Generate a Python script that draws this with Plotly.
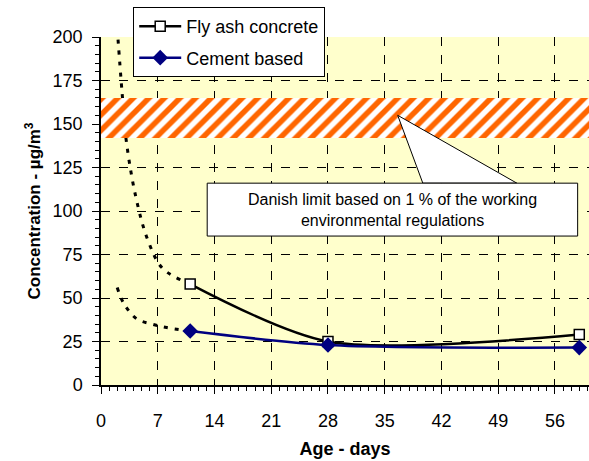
import plotly.graph_objects as go

# measured points (days, ug/m3)
fly_ash_days = [11, 28, 59]
fly_ash_conc = [58, 25, 29]
cement_days = [11, 28, 59]
cement_conc = [31, 23, 21.5]

# extrapolated trend towards early age (dotted)
fly_ash_early_days = [2.0, 2.6, 3.1, 4.3, 5.8, 7.6, 11]
fly_ash_early_conc = [205, 168, 141, 108, 83, 67, 58]
cement_early_days = [2.0, 2.8, 4.4, 6.3, 8.1, 11]
cement_early_conc = [56, 47, 38, 35, 33, 31]

# Danish limit band
limit_low = 142
limit_high = 165

x_ticks = [0, 7, 14, 21, 28, 35, 42, 49, 56]
y_ticks = [0, 25, 50, 75, 100, 125, 150, 175, 200]

FONT = "Arial, Liberation Sans, sans-serif"

fig = go.Figure()

fig.add_trace(go.Scatter(
    x=fly_ash_early_days, y=fly_ash_early_conc, mode="lines",
    line=dict(color="black", width=3, dash="4px,7px", shape="spline"),
    showlegend=False, hoverinfo="skip"))
fig.add_trace(go.Scatter(
    x=cement_early_days, y=cement_early_conc, mode="lines",
    line=dict(color="black", width=3, dash="4px,7px", shape="spline"),
    showlegend=False, hoverinfo="skip"))

# hatched limit band
fig.add_trace(go.Scatter(
    x=[0, 61, 61, 0, 0], y=[limit_low, limit_low, limit_high, limit_high, limit_low],
    mode="lines", line=dict(width=0), fill="toself", fillcolor="white",
    fillpattern=dict(shape="/", fgcolor="#FF6600", bgcolor="white", fgopacity=1,
                     size=11, solidity=0.5),
    showlegend=False, hoverinfo="skip"))

fig.add_trace(go.Scatter(
    x=fly_ash_days, y=fly_ash_conc, mode="lines+markers", name="Fly ash concrete",
    legendgroup="fly",
    line=dict(color="black", width=2.5, shape="spline", smoothing=0.8),
    marker=dict(symbol="square", size=10, color="white", line=dict(color="black", width=1.5))))
fig.add_trace(go.Scatter(
    x=cement_days, y=cement_conc, mode="lines+markers", name="Cement based",
    legendgroup="cement",
    line=dict(color="#000080", width=2.5, shape="spline", smoothing=0.8),
    marker=dict(symbol="diamond", size=12, color="#000080")))

# callout
fig.add_shape(type="path", path="M 39.7,116 L 36.6,155 L 51.3,116 Z",
              xref="x", yref="y", fillcolor="white", line=dict(color="black", width=1))
fig.add_shape(type="rect", x0=13.1, x1=58.8, y0=85.6, y1=116,
              xref="x", yref="y", fillcolor="white", line=dict(color="black", width=1))
fig.add_annotation(x=35.95, y=100.8, xref="x", yref="y", showarrow=False,
                   text="Danish limit based on 1 % of the working<br>environmental regulations",
                   font=dict(family=FONT, size=16, color="black"), align="center")

fig.update_layout(
    width=589, height=461,
    margin=dict(l=101, r=0, t=37, b=76),
    paper_bgcolor="white",
    plot_bgcolor="#FFFFCC",
    font=dict(family=FONT, size=18, color="black"),
    legend=dict(x=0.066, y=1.086, xanchor="left", yanchor="top",
                bgcolor="white", bordercolor="black", borderwidth=1,
                itemwidth=42, tracegroupgap=5, font=dict(size=18)),
)

fig.update_xaxes(
    range=[0, 60.2], tickvals=x_ticks, ticks="outside", ticklen=7, tickcolor="black",
    showline=True, linecolor="black", linewidth=1.5, zeroline=False, automargin=False,
    showgrid=True, gridcolor="black", griddash="dash", gridwidth=1,
    minor=dict(dtick=1, tick0=0, ticks="outside", ticklen=4, tickcolor="black", showgrid=False),
    ticklabelstandoff=12,
    title=dict(text="Age - days", font=dict(size=18, weight="bold"), standoff=12))
fig.update_yaxes(
    range=[0, 200], tickvals=y_ticks, ticks="outside", ticklen=7, tickcolor="black",
    showline=True, linecolor="black", linewidth=1.5, zeroline=False, automargin=False,
    showgrid=True, gridcolor="black", griddash="dash", gridwidth=1,
    minor=dict(dtick=5, tick0=0, ticks="outside", ticklen=4, tickcolor="black", showgrid=False),
    ticklabelstandoff=6,
    title=dict(text="Concentration - µg/m<sup>3</sup>", font=dict(size=17, weight="bold"), standoff=8))

# drop the default page margin so the figure sits at the window's corner
fig.write_html("out.html", config={"displayModeBar": False},
               post_script="document.body.style.margin='0';")
